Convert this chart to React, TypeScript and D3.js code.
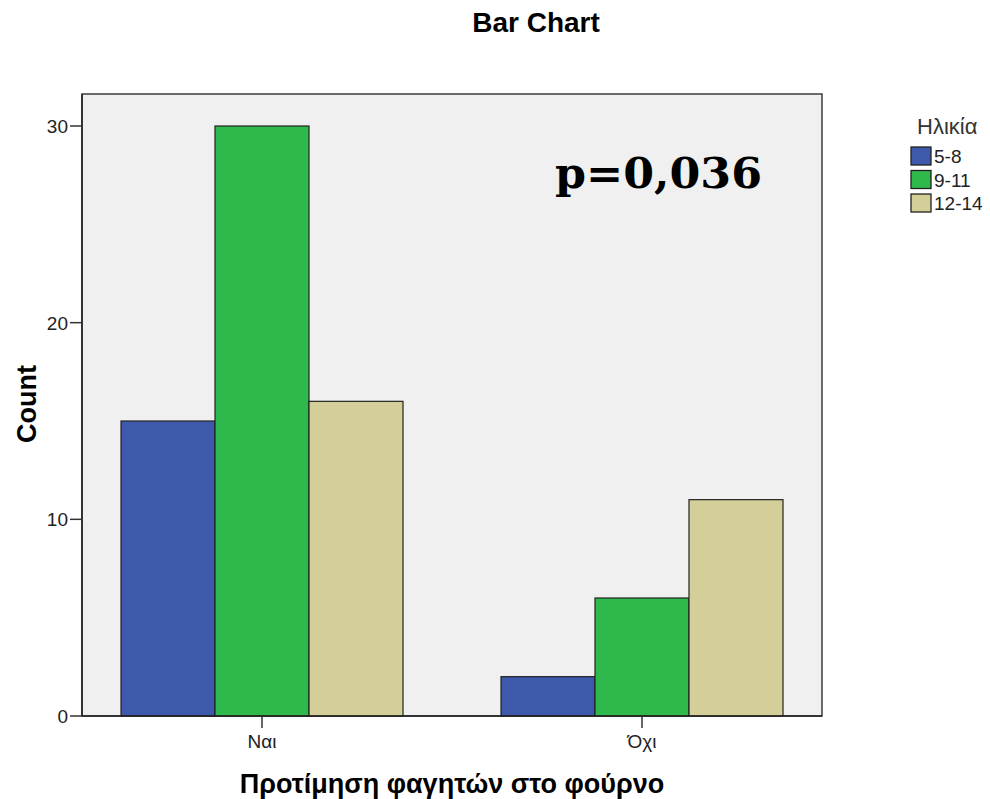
import React from 'react'
import * as d3 from 'd3'

// categories and series
const categories = ['Ναι', 'Όχι']
const ageGroups = ['5-8', '9-11', '12-14']
const counts5to8 = [15, 2]
const counts9to11 = [30, 6]
const counts12to14 = [16, 11]
const yTicks = [0, 10, 20, 30]
const colors = ['#3e58ac', '#2fb84b', '#d4ce98']

const App = () => {
    const W = 990, H = 799
    const left = 82, right = 822, top = 94, bottom = 716
    const series = [counts5to8, counts9to11, counts12to14]

    const y = d3.scaleLinear().domain([0, 30]).range([bottom, 126])
    const x = d3.scalePoint<string>().domain(categories).range([left, right]).padding(0.4737)
    const inner = d3.scaleBand<string>().domain(ageGroups).range([-141, 141]).padding(0)

    const font = '"Liberation Sans", Arial, sans-serif'

    return (
        <svg width={W} height={H} style={{ display: 'block', position: 'absolute', left: 0, top: 0 }}>
            <rect x={0} y={0} width={W} height={H} fill="#ffffff" />
            <text x={536} y={32} textAnchor="middle" fontFamily={font} fontWeight="bold" fontSize={28} fill="#000">Bar Chart</text>

            {/* plot area */}
            <rect x={left} y={top} width={right - left} height={bottom - top} fill="#f0f0f0" stroke="#3c3c3c" strokeWidth={1.5} />

            {/* bars */}
            {categories.map((c, ci) => (
                <g key={c}>
                    {ageGroups.map((a, ai) => {
                        const v = series[ai][ci]
                        const bx = (x(c) ?? 0) + (inner(a) ?? 0)
                        return <rect key={a} x={bx} y={y(v)} width={inner.bandwidth()} height={bottom - y(v)}
                            fill={colors[ai]} stroke="#222" strokeWidth={1.2} />
                    })}
                </g>
            ))}

            {/* y axis */}
            <line x1={left} x2={left} y1={top} y2={bottom} stroke="#222" strokeWidth={1.5} />
            {yTicks.map(t => (
                <g key={t}>
                    <line x1={left - 12} x2={left} y1={y(t)} y2={y(t)} stroke="#333" strokeWidth={1.5} />
                    <text x={left - 14} y={y(t) + 7} textAnchor="end" fontFamily={font} fontSize={19} fill="#222">{t}</text>
                </g>
            ))}
            <text transform={`translate(36,${404}) rotate(-90)`} textAnchor="middle" fontFamily={font} fontWeight="bold" fontSize={27} fill="#000">Count</text>

            {/* x axis */}
            <line x1={left} x2={right} y1={bottom} y2={bottom} stroke="#222" strokeWidth={1.5} />
            {categories.map(c => (
                <g key={c}>
                    <line x1={x(c)} x2={x(c)} y1={bottom} y2={bottom + 12} stroke="#333" strokeWidth={1.5} />
                    <text x={x(c)} y={bottom + 32} textAnchor="middle" fontFamily={font} fontSize={19} fill="#222">{c}</text>
                </g>
            ))}
            <text x={452} y={793} textAnchor="middle" fontFamily={font} fontWeight="bold" fontSize={27} fill="#000">Προτίμηση φαγητών στο φούρνο</text>

            {/* annotation */}
            <text x={555} y={188} fontFamily='"DejaVu Serif", "Liberation Serif", serif' fontWeight="bold" fontSize={42}
                textLength={207} lengthAdjust="spacingAndGlyphs" fill="#000">p=0,036</text>

            {/* legend */}
            <text x={917} y={134} fontFamily={font} fontSize={22} fill="#333">Ηλικία</text>
            {ageGroups.map((a, i) => (
                <g key={a}>
                    <rect x={911} y={147 + i * 23.5} width={20} height={18} fill={colors[i]} stroke="#222" strokeWidth={1.3} />
                    <text x={934} y={163 + i * 23.5} fontFamily={font} fontSize={19} fill="#222">{a}</text>
                </g>
            ))}
        </svg>
    )
}

export default App
